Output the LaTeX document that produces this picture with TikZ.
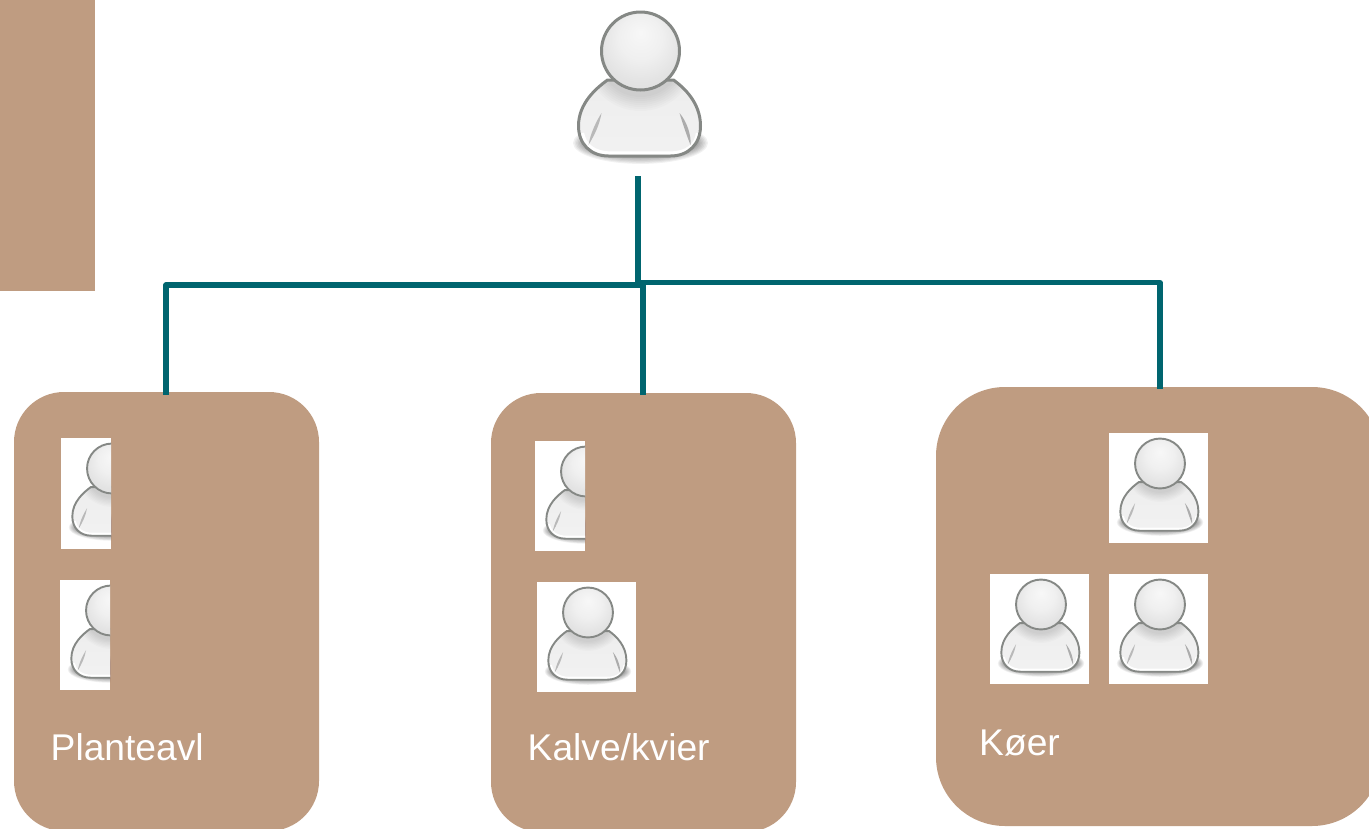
\documentclass[tikz,border=0pt]{standalone}
\usepackage{fontspec}
\setmainfont{Liberation Sans}
\pgfdeclareradialshading{headshade}{\pgfpoint{0bp}{12bp}}{
  color(0bp)=(white!97!black);
  color(14bp)=(white!94!black);
  color(26bp)=(white!89!black);
  color(50bp)=(white!85!black)}
\pgfdeclareverticalshading{bodyshade}{100bp}{
  color(0bp)=(white!97!black);
  color(12bp)=(white!95!black);
  color(50bp)=(white!94!black);
  color(75bp)=(white!93!black);
  color(100bp)=(white!90!black)}
\definecolor{boxbrown}{HTML}{BF9C81}
\definecolor{teal}{HTML}{00656F}
\definecolor{iconline}{HTML}{858885}
\tikzset{
  groupbox/.style={fill=boxbrown,draw=none,inner sep=0pt,outer sep=0pt},
  wire/.style={draw=teal,line width=5.4pt},
  grouplabel/.style={text=white,font=\fontsize{37.2}{40}\selectfont,inner sep=0pt,anchor=base west},
}
% #1 = line width of the outline; drawn with head centre at the origin
\newcommand{\personfigure}[1]{%
  \foreach \k in {0,...,9}{
    \fill[black,opacity=.055] (0,92) ellipse[x radius=54+\k*1.5,y radius=11+\k*1.1];
  }
  \def\bodypath{(-33,29) .. controls (-44,37) and (-62,52) .. (-62,75)
      .. controls (-62,93) and (-50,105) .. (-32,105) -- (30,105)
      .. controls (48,105) and (60,93) .. (60,75)
      .. controls (60,52) and (44,37) .. (33,29) -- cycle}
  \shade[shading=bodyshade] \bodypath;
  \begin{scope}
    \clip \bodypath;
    \foreach \r in {42,44,...,56}{\fill[black,opacity=.014] (0,4) circle[radius=\r];}
    \draw[white,line width=1.1*#1] (-58,82) .. controls (-56,94) and (-46,102) .. (-30,102) -- (30,102)
      .. controls (46,102) and (56,94) .. (57,82);
  \end{scope}
  \fill[black!45,opacity=.55] (-39,62) .. controls (-44,70) and (-50,82) .. (-52,94) .. controls (-46,84) and (-41,74) .. (-39,62) -- cycle;
  \fill[black!50,opacity=.6] (39,62) .. controls (42,72) and (46,84) .. (50,94) .. controls (51,84) and (46,70) .. (39,62) -- cycle;
  \draw[iconline,line width=#1] \bodypath;
  \shade[shading=headshade] (0,0) circle[radius=39];
  \draw[iconline,line width=#1] (0,0) circle[radius=39];
}
% #1,#2 = top-left of the white tile, #3 = visible width, #4 = tile height
\newcommand{\persontile}[4]{%
  \begin{scope}
    \fill[white] (#1,#2) rectangle ++(#3,#4);
    \clip (#1,#2) rectangle ++(#3,#4);
    \begin{scope}[shift={(#1+51,#2+30.5)},scale=.64]
      \personfigure{1.9pt}
    \end{scope}
  \end{scope}
}
\begin{document}
\begin{tikzpicture}[x=1pt,y=-1pt]
\useasboundingbox (0,0) rectangle (1369,828);
\clip (0,0) rectangle (1369,828);

\fill[boxbrown] (0,0) rectangle (95,291);

\node[groupbox,rounded corners=50pt,minimum width=305pt,minimum height=439pt,anchor=north west] (plant) at (14,392) {};
\node[groupbox,rounded corners=50pt,minimum width=305pt,minimum height=439pt,anchor=north west] (kalve) at (491,393) {};
\node[groupbox,rounded corners=69pt,minimum width=445pt,minimum height=439pt,anchor=north west] (koer) at (936,387) {};

\begin{scope}[shift={(640.5,51)}]
  \personfigure{3pt}
\end{scope}

\coordinate (root) at (638,176);
\coordinate (rootbus) at (638,285);
\coordinate (rootbustwo) at (638,282.5);
\coordinate (plantin) at (166,395);
\coordinate (kalvein) at (643,395);
\coordinate (koerin) at (1160,389);

\draw[wire] (root) -- (rootbus);
\draw[wire,line join=round] (plantin) |- (rootbus) -| (kalvein);
\draw[wire,line join=round] (rootbustwo) -| (koerin);

\persontile{61}{438}{50}{111}
\persontile{60}{580}{50}{110}
\persontile{535}{441}{50}{110}
\persontile{537}{582}{99}{110}
\persontile{1109}{433}{99}{110}
\persontile{990}{574}{99}{110}
\persontile{1109}{574}{99}{110}

\node[grouplabel] (planttext) at (50.5,760) {Planteavl};
\node[grouplabel] (kalvetext) at (527.5,760) {Kalve/kvier};
\node[grouplabel] (koertext) at (979,755) {Køer};
\end{tikzpicture}
\end{document}
